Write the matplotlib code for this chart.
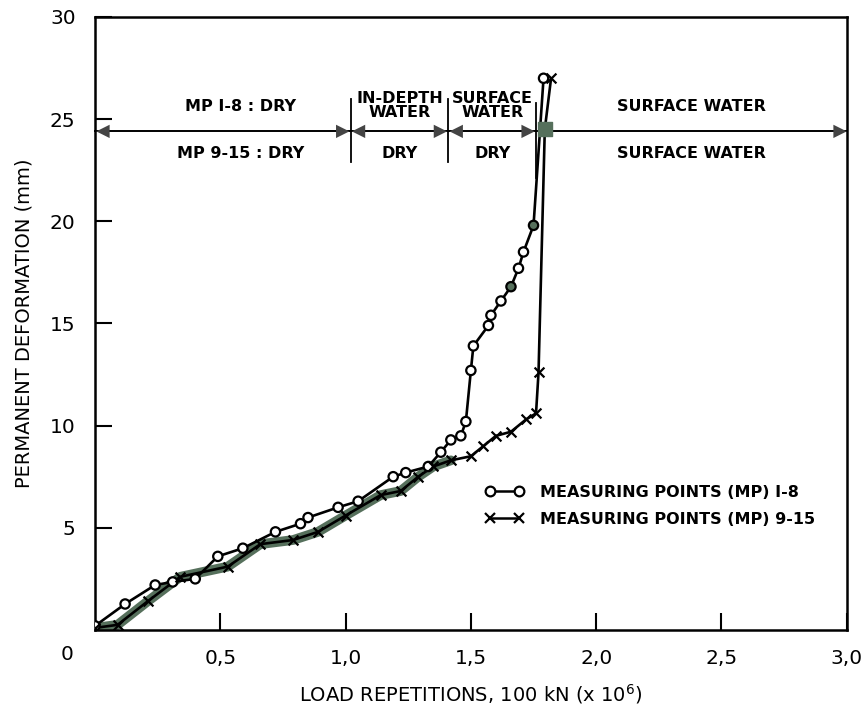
import matplotlib.pyplot as plt
import numpy as np

# MP 1-8 (circles)
mp1_x = [0.0, 0.12, 0.24, 0.31, 0.40, 0.49, 0.59, 0.72, 0.82, 0.85, 0.97, 1.05, 1.19, 1.24,
         1.33, 1.38, 1.42, 1.46, 1.48, 1.50, 1.51, 1.57, 1.58, 1.62, 1.66, 1.69, 1.71, 1.75, 1.79]
mp1_y = [0.2, 1.27, 2.2, 2.35, 2.5, 3.6, 4.0, 4.8, 5.2, 5.5, 6.0, 6.3, 7.5, 7.7,
         8.0, 8.7, 9.3, 9.5, 10.2, 12.7, 13.9, 14.9, 15.4, 16.1, 16.8, 17.7, 18.5, 19.8, 27.0]

# MP 9-15 (crosses)
mp2_x = [0.0, 0.09, 0.21, 0.34, 0.53, 0.66, 0.79, 0.89, 1.00, 1.14, 1.22, 1.29, 1.35, 1.42,
         1.50, 1.55, 1.60, 1.66, 1.72, 1.76, 1.77, 1.795, 1.82]
mp2_y = [0.1, 0.25, 1.4, 2.6, 3.1, 4.2, 4.4, 4.8, 5.6, 6.6, 6.8, 7.5, 8.0, 8.3,
         8.5, 9.0, 9.5, 9.7, 10.3, 10.6, 12.6, 24.5, 27.0]

# phase boundaries (load repetitions) and labels
bounds = [0.0, 1.02, 1.41, 1.76, 3.0]
top_labels = ['MP I-8 : DRY', 'IN-DEPTH\nWATER', 'SURFACE\nWATER', 'SURFACE WATER']
bot_labels = ['MP 9-15 : DRY', 'DRY', 'DRY', 'SURFACE WATER']

green = '#56705c'

fig = plt.figure(figsize=(8.64, 7.07), dpi=100)
ax = fig.add_axes([0.110, 0.109, 0.870, 0.867])

# scanned-looking overlap smudge
mx = np.array(mp2_x)
sel = mx <= 1.45
ax.plot(mx[sel], np.array(mp2_y)[sel], color=green, lw=7, solid_capstyle='round', zorder=1)

ax.plot(mp1_x, mp1_y, color='black', lw=1.9, zorder=2)
ax.plot(mp2_x, mp2_y, color='black', lw=1.9, zorder=2)
face = ['white'] * len(mp1_x)
for i in (24, 27):
    face[i] = green
ax.scatter(mp1_x, mp1_y, s=45, facecolors=face, edgecolors='black', linewidths=1.6, zorder=3)
ax.scatter(mp2_x, mp2_y, s=50, marker='x', color='black', linewidths=1.6, zorder=3)
ax.scatter([mp2_x[-2]], [mp2_y[-2]], s=90, marker='s', color=green, zorder=4)

# legend
h1, = ax.plot([], [], color='black', lw=1.8, marker='o', mfc='white', mec='black', ms=7, mew=1.6)
h2, = ax.plot([], [], color='black', lw=1.8, marker='x', mec='black', ms=7, mew=1.6)
leg = ax.legend([h1, h2], ['MEASURING POINTS (MP) I-8', 'MEASURING POINTS (MP) 9-15'],
                loc='upper left', bbox_to_anchor=(0.5, 0.26), frameon=False,
                handlelength=2.4, handletextpad=1.0, numpoints=2, labelspacing=0.75,
                prop={'weight': 'bold', 'size': 11.5})

# phase arrows
ya = 24.4
ax.plot([0, 3.0], [ya, ya], color='black', lw=1.4, zorder=2, clip_on=False)
ap = dict(arrowstyle='<|-|>', color='#444444', lw=0, mutation_scale=24, shrinkA=0, shrinkB=0)
for a, b in zip(bounds[:-2], bounds[1:-1]):
    ax.annotate('', xy=(a + 0.005, ya), xytext=(b - 0.005, ya), arrowprops=ap)
ax.annotate('', xy=(3.0, ya), xytext=(2.6, ya),
            arrowprops=dict(arrowstyle='-|>', color='#444444', lw=0, mutation_scale=24,
                            shrinkA=0, shrinkB=0), annotation_clip=False)
for b in bounds[1:3]:
    ax.plot([b, b], [22.9, 26.0], color='black', lw=1.3)
ax.plot([bounds[3], bounds[3]], [22.1, 25.8], color='black', lw=1.3)

for a, b, t1, t2 in zip(bounds[:-1], bounds[1:], top_labels, bot_labels):
    xc = (a + b) / 2 if b < 3 else 2.38
    if a == 0:
        xc = 0.58
    ax.text(xc, 24.95 if '\n' in t1 else 25.6, t1, ha='center',
            va='bottom' if '\n' in t1 else 'center',
            fontsize=11.5, fontweight='bold', linespacing=0.95)
    ax.text(xc, 23.3, t2, ha='center', va='center', fontsize=11.5, fontweight='bold')

ax.set_xlim(0, 3.0)
ax.set_ylim(0, 30)
ax.set_xticks([0.5, 1.0, 1.5, 2.0, 2.5, 3.0])
ax.set_xticklabels(['0,5', '1,0', '1,5', '2,0', '2,5', '3,0'])
ax.set_yticks([5, 10, 15, 20, 25, 30])
ax.tick_params(direction='in', length=12, width=1.5, labelsize=14.5, pad=14)
ax.text(-0.11, -1.2, '0', transform=ax.transData, ha='center', va='center', fontsize=14.5)
for s in ax.spines.values():
    s.set_linewidth(1.8)

ax.set_xlabel('LOAD REPETITIONS, 100 kN (x 10$^6$)', fontsize=14, labelpad=10)
ax.set_ylabel('PERMANENT DEFORMATION (mm)', fontsize=14, labelpad=12)

fig.savefig('out.png', dpi=100)
